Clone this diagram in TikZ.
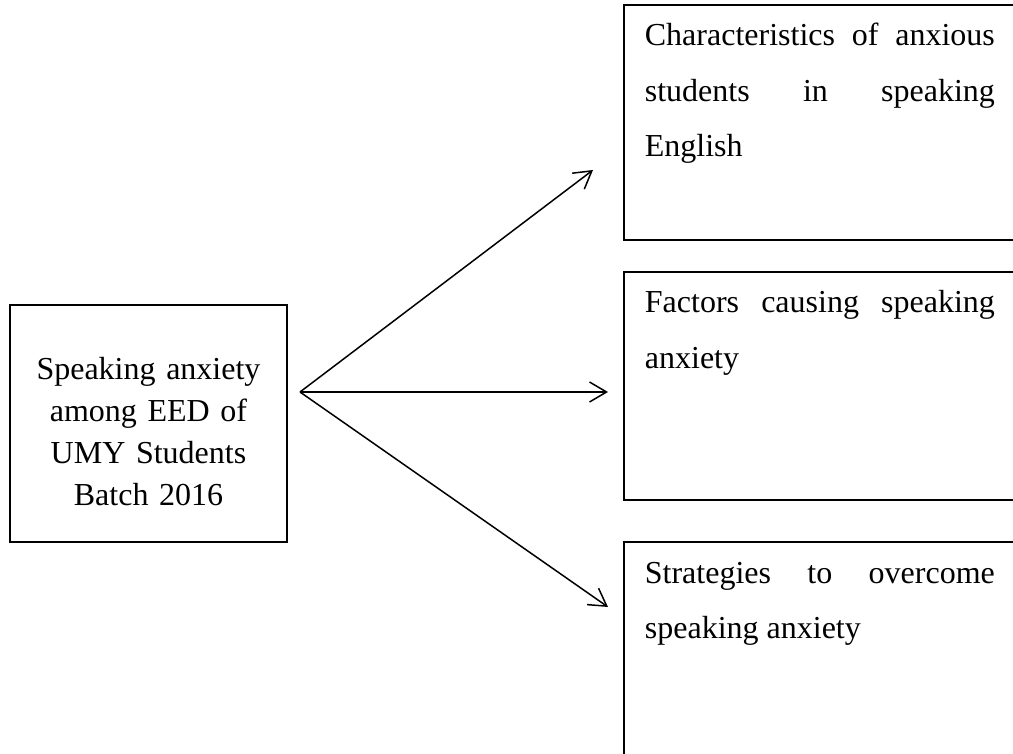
\documentclass[tikz,border=0pt]{standalone}
\usepackage{fontspec}
\setmainfont{Liberation Serif}
\usetikzlibrary{arrows.meta}

\begin{document}
\begin{tikzpicture}[
    x=0.5pt, y=-0.5pt,
    box/.style={draw, line width=0.9pt},
    lbox/.style={box, text width=130pt, align=center, minimum width=138.5pt,
      inner xsep=0pt, inner ysep=5pt, text height=32.5pt, text depth=76pt,
      font=\fontsize{16pt}{20.85pt}\selectfont},
    rbox/.style={box, text width=187pt, align=justify, inner xsep=10.5pt,
      inner ysep=10pt, text height=10.5pt,
      execute at begin node={\rightskip=12pt\relax},
      font=\fontsize{16pt}{27.75pt}\selectfont},
    link/.style={-{Straight Barb[length=8.5pt, width=10pt]}, line width=0.75pt}]

  % page
  \useasboundingbox (0,0) rectangle (1013,754);
  \clip (0,0) rectangle (1013,754);

  % topic box -- left
  \node [lbox, anchor=base] (topic) at (148.5,380)
    {Speaking anxiety\\ among EED of\\ UMY Students\\ Batch 2016};

  % question boxes -- right
  \node [rbox, anchor=base west, text depth=87pt] (traits) at (623,46)
    {Characteristics of anxious\linebreak students in speaking\linebreak English};

  \node [rbox, anchor=base west, text depth=83.5pt] (causes) at (623,313)
    {Factors causing speaking\linebreak anxiety};

  \node [rbox, anchor=base west, text depth=110pt] (coping) at (623,583)
    {Strategies to overcome\linebreak speaking anxiety};

  % arrows
  \coordinate (hub) at (300,392);
  \coordinate (traitsin) at (593,170);
  \coordinate (causesin) at (608,392);
  \coordinate (copingin) at (608,607);

  \foreach \t in {traitsin,causesin,copingin}
    \draw [link] (hub) -- (\t);
\end{tikzpicture}
\end{document}
